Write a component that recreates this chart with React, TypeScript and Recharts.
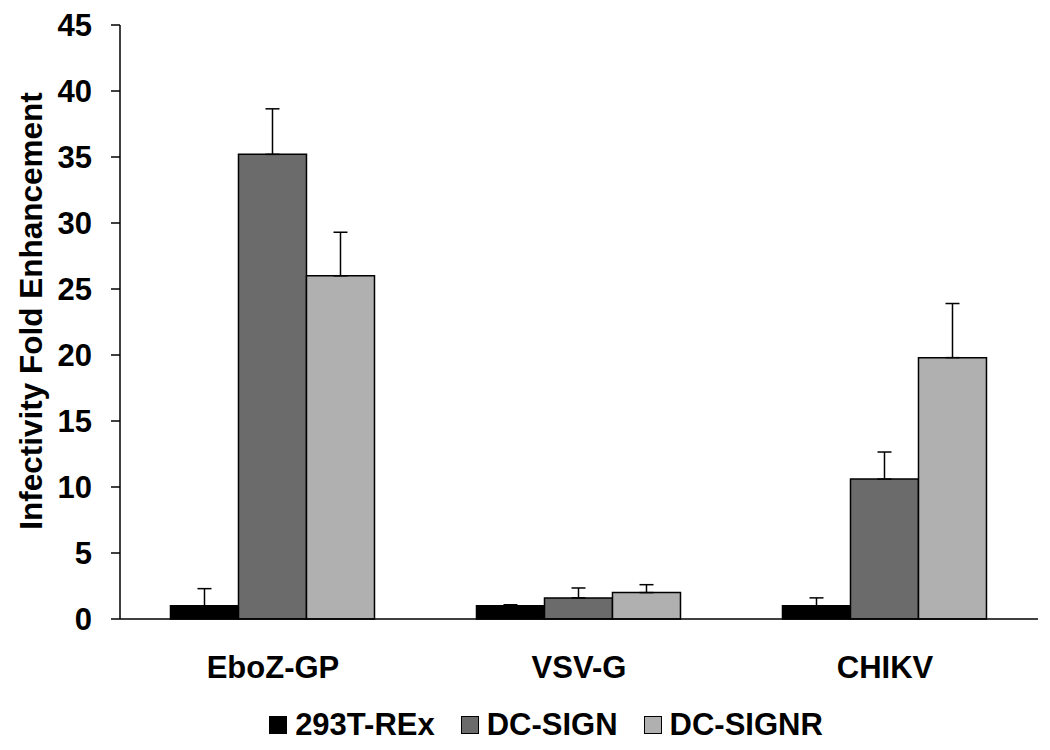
import { BarChart, Bar, XAxis, YAxis, ErrorBar, Legend } from 'recharts'

const categories = ['EboZ-GP', 'VSV-G', 'CHIKV']
const rexValues = [1.0, 1.0, 1.0]
const rexErrors = [1.3, 0.08, 0.6]
const signValues = [35.2, 1.6, 10.6]
const signErrors = [3.45, 0.75, 2.05]
const signrValues = [26.0, 2.0, 19.8]
const signrErrors = [3.3, 0.6, 4.1]
const yTicks = [0, 5, 10, 15, 20, 25, 30, 35, 40, 45]
const edgeTicks = [0, 1, 2, 3]

const series = [
  { key: 'rex', name: '293T-REx', color: '#000000' },
  { key: 'sign', name: 'DC-SIGN', color: '#6b6b6b' },
  { key: 'signr', name: 'DC-SIGNR', color: '#b0b0b0' },
]

// one-sided (upper) error bars: [lower, upper]
const data = categories.map((name, i) => ({
  name,
  rex: rexValues[i],
  rexErr: [0, rexErrors[i]],
  sign: signValues[i],
  signErr: [0, signErrors[i]],
  signr: signrValues[i],
  signrErr: [0, signrErrors[i]],
}))

const FONT = '"Liberation Sans", Arial, sans-serif'
const tickStyle = { fontSize: 31, fontWeight: 700, fill: '#000', fontFamily: FONT }

function YLabel({ viewBox }: any) {
  const cx = viewBox.x + 31
  const cy = viewBox.y + viewBox.height / 2 - 11
  return (
    <text
      x={cx}
      y={cy}
      transform={`rotate(-90, ${cx}, ${cy})`}
      textAnchor="middle"
      dominantBaseline="central"
      style={{ fontSize: 31.5, fontWeight: 700, fill: '#000', fontFamily: FONT }}
    >
      Infectivity Fold Enhancement
    </text>
  )
}

function LegendContent() {
  return (
    <div
      style={{
        height: 51,
        display: 'flex',
        justifyContent: 'center',
        alignItems: 'center',
        paddingLeft: 68,
        fontFamily: FONT,
        fontSize: 31,
        fontWeight: 700,
        color: '#000',
      }}
    >
      {series.map((s) => (
        <div key={s.key} style={{ display: 'flex', alignItems: 'center', marginRight: 26 }}>
          <span
            style={{
              display: 'inline-block',
              width: 16,
              height: 16,
              background: s.color,
              border: '1px solid #000',
              marginRight: 8,
            }}
          />
          <span style={{ lineHeight: '31px' }}>{s.name}</span>
        </div>
      ))}
    </div>
  )
}

export default function App() {
  return (
    <div style={{ position: 'absolute', top: 0, left: 0, background: '#fff' }}>
      <BarChart
        width={1050}
        height={750}
        data={data}
        margin={{ top: 25, right: 12, bottom: 0, left: 0 }}
        barCategoryGap="16.5%"
        barGap={0}
      >
        <XAxis
          xAxisId="edge"
          type="number"
          domain={[0, 3]}
          ticks={edgeTicks}
          allowDataOverflow
          tick={false}
          axisLine={false}
          tickLine={{ stroke: '#000', strokeWidth: 1.5 }}
          tickSize={8}
          height={0}
        />
        <XAxis
          xAxisId="cat"
          dataKey="name"
          tickLine={false}
          tickSize={0}
          tickMargin={37}
          height={80}
          axisLine={{ stroke: '#000', strokeWidth: 1.5 }}
          tick={tickStyle}
          interval={0}
        />
        <YAxis
          width={120}
          domain={[0, 45]}
          ticks={yTicks}
          interval={0}
          tickSize={9}
          tickMargin={19}
          axisLine={{ stroke: '#000', strokeWidth: 1.5 }}
          tickLine={{ stroke: '#000', strokeWidth: 1.5 }}
          tick={tickStyle}
          label={<YLabel />}
        />
        <Legend verticalAlign="bottom" content={<LegendContent />} wrapperStyle={{ left: 0, width: 1050 }} />
        {series.map((s) => (
          <Bar
            key={s.key}
            xAxisId="cat"
            dataKey={s.key}
            name={s.name}
            fill={s.color}
            stroke="#000"
            strokeWidth={1.5}
            isAnimationActive={false}
          >
            <ErrorBar dataKey={`${s.key}Err`} width={7} stroke="#000" strokeWidth={1.5} direction="y" />
          </Bar>
        ))}
      </BarChart>
    </div>
  )
}
